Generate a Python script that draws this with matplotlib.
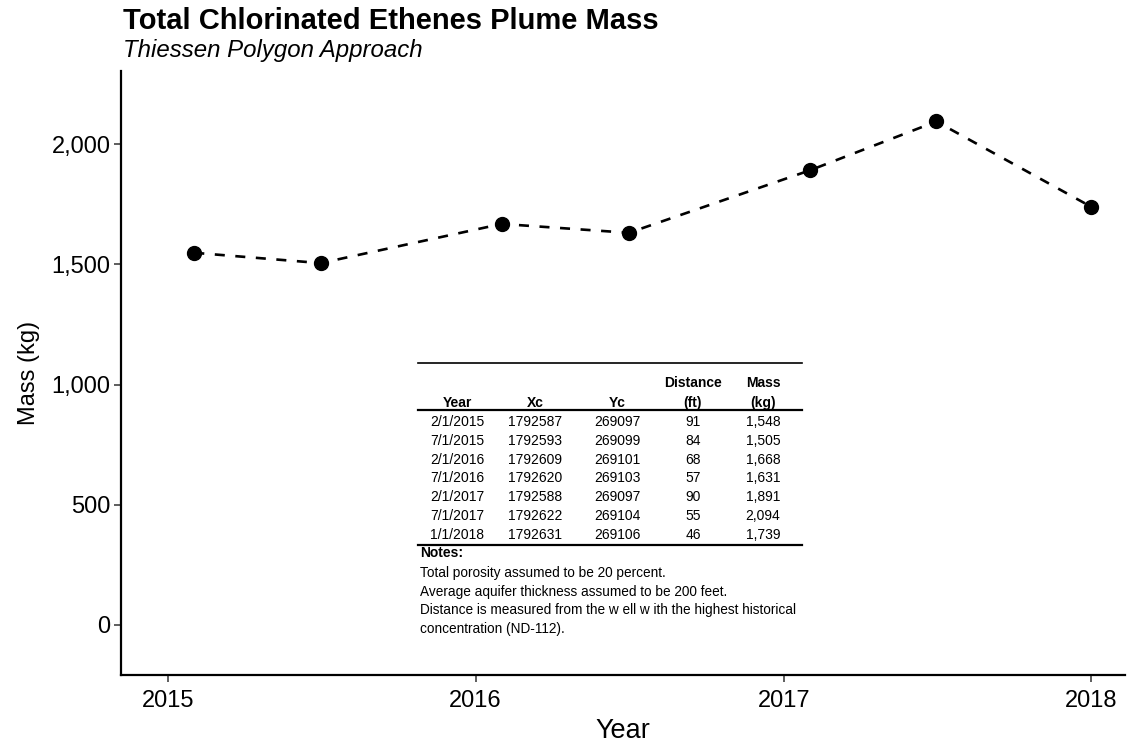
import matplotlib
import pandas as pd
import matplotlib.pyplot as plt
import matplotlib.dates as mdates
from matplotlib.lines import Line2D
from matplotlib.ticker import FuncFormatter

matplotlib.use('Agg')

plt.rcParams['font.family'] = ['Liberation Sans', 'DejaVu Sans']

# Plume mass results, one row per sampling event
dates = ['2/1/2015', '7/1/2015', '2/1/2016', '7/1/2016', '2/1/2017', '7/1/2017', '1/1/2018']
xc = [1792587, 1792593, 1792609, 1792620, 1792588, 1792622, 1792631]
yc = [269097, 269099, 269101, 269103, 269097, 269104, 269106]
distance_ft = [91, 84, 68, 57, 90, 55, 46]
mass_kg = [1548, 1505, 1668, 1631, 1891, 2094, 1739]

year_ticks = ['2015-01-01', '2016-01-01', '2017-01-01', '2018-01-01']
mass_ticks = [0, 500, 1000, 1500, 2000]

notes = [
    'Total porosity assumed to be 20 percent.',
    'Average aquifer thickness assumed to be 200 feet.',
    'Distance is measured from the w ell w ith the highest historical',
    'concentration (ND-112).',
]

W, H = 1133, 745
fig = plt.figure(figsize=(W / 100, H / 100), dpi=100)
ax = fig.add_axes([121 / W, 1 - 675 / H, (1125 - 121) / W, (675 - 71) / H])

when = pd.to_datetime(dates, format='%m/%d/%Y')
ax.plot(when, mass_kg, color='black', lw=1.9, dashes=(3.8, 4.0), zorder=2)
ax.plot(when, mass_kg, 'o', color='black', ms=10, zorder=3)

ax.set_xlim(pd.Timestamp('2014-11-06'), pd.Timestamp('2018-02-10'))
ax.set_ylim(-208, 2304)
ax.set_xticks(pd.to_datetime(year_ticks))
ax.xaxis.set_major_formatter(mdates.DateFormatter('%Y'))
ax.set_yticks(mass_ticks)
ax.yaxis.set_major_formatter(FuncFormatter(lambda v, p: f'{int(v):,}'))

for side in ['top', 'right']:
    ax.spines[side].set_visible(False)
for side in ['left', 'bottom']:
    ax.spines[side].set_linewidth(1.6)
ax.tick_params(labelsize=17, length=5, width=1.1, color='#333333')
ax.tick_params(axis='x', pad=6)
ax.tick_params(axis='y', pad=2.5)
ax.set_xlabel('Year', fontsize=19.5, labelpad=4)
ax.set_ylabel('Mass (kg)', fontsize=17, labelpad=8)

fig.text(123 / W, 1 - 29 / H, 'Total Chlorinated Ethenes Plume Mass',
         fontsize=21, fontweight='bold', va='baseline')
fig.text(123 / W, 1 - 57 / H, 'Thiessen Polygon Approach',
         fontsize=17.3, style='italic', va='baseline')


# summary table placed in figure pixel coordinates
def px(x, y):
    return x / W, 1 - y / H


def hline(y, lw):
    x0, y0 = px(418, y)
    x1, _ = px(802, y)
    fig.add_artist(Line2D([x0, x1], [y0, y0], color='black', lw=lw))


hline(363, 1.2)
hline(410, 1.6)
hline(545, 1.6)

col_x = [457, 535, 617, 693, 763]
tsize = 10
for cx, head in zip(col_x, ['Year', 'Xc', 'Yc', '(ft)', '(kg)']):
    fig.text(*px(cx, 403), head, fontsize=tsize, fontweight='bold', ha='center', va='center')
fig.text(*px(col_x[3], 383), 'Distance', fontsize=tsize, fontweight='bold', ha='center', va='center')
fig.text(*px(col_x[4], 383), 'Mass', fontsize=tsize, fontweight='bold', ha='center', va='center')

row_y = [422, 441, 459.5, 478, 497, 516, 535]
for ry, d, x_, y_, dist, m in zip(row_y, dates, xc, yc, distance_ft, mass_kg):
    cells = [d, str(x_), str(y_), str(dist), f'{m:,}']
    for cx, cell in zip(col_x, cells):
        fig.text(*px(cx, ry), cell, fontsize=tsize, ha='center', va='center')

fig.text(*px(420, 553), 'Notes:', fontsize=tsize, fontweight='bold', ha='left', va='center')
for ny, line in zip([573, 592, 610, 629], notes):
    fig.text(*px(420, ny), line, fontsize=9.8, ha='left', va='center')

fig.savefig('out.png', dpi=100)
plt.close(fig)
